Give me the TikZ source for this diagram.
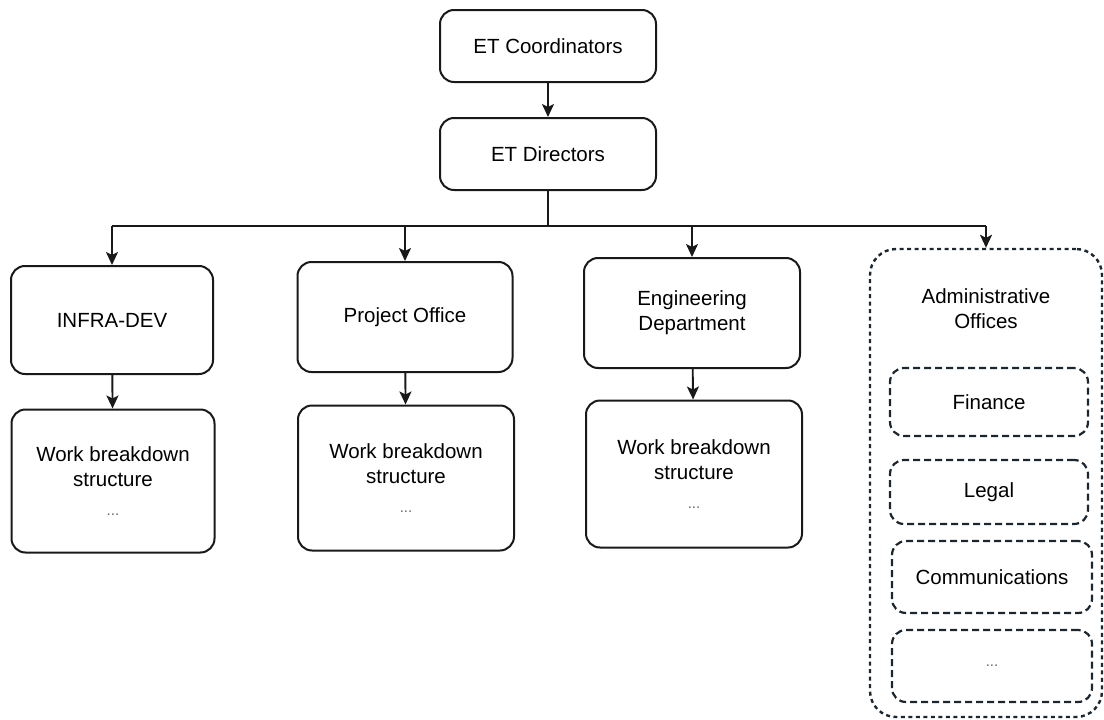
\documentclass[tikz,border=0pt]{standalone}
\usepackage{fontspec}
\setmainfont{Liberation Sans}
\usetikzlibrary{arrows.meta}
\definecolor{dashcol}{RGB}{28,38,46}
\begin{document}
\begin{tikzpicture}[x=1pt,y=-1pt,
  lbl/.style={font=\fontsize{20.5}{25}\selectfont, align=center, text=black},
  box/.style={lbl, draw=black!90, line width=2pt, rounded corners=14pt, inner sep=0pt},
  dbox/.style={lbl, draw=dashcol, line width=2.2pt, rounded corners=14pt, inner sep=0pt, dash pattern=on 7pt off 4pt},
  outer/.style={draw=dashcol, line width=2.4pt, rounded corners=26pt, dash pattern=on 4pt off 3.5pt},
  arr/.style={line width=1.9pt, draw=black!90, -{Stealth[length=13pt,width=12pt,inset=3pt]}},
  dotsf/.style={font=\fontsize{15}{15}\selectfont, text=black!60}]
\useasboundingbox (0,0) rectangle (1104,720);

\node[box, minimum width=216pt, minimum height=72pt] (coord) at (548,46) {ET Coordinators};
\node[box, minimum width=216pt, minimum height=72pt] (dir) at (548,154) {ET Directors};

\node[box, minimum width=202pt, minimum height=108pt] (infra) at (112,320) {INFRA-DEV};
\node[box, minimum width=215pt, minimum height=110pt] (po) at (405,317) {Project Office};
\node[box, minimum width=216pt, minimum height=110pt] (eng) at (692,313) {Engineering\\Department};

\node[box, minimum width=203pt, minimum height=143pt] (wb1) at (113,481) {Work breakdown\\structure\\[4pt]{\fontsize{15}{15}\selectfont\color{black!60}...}};
\node[box, minimum width=216pt, minimum height=145pt] (wb2) at (406,478) {Work breakdown\\structure\\[4pt]{\fontsize{15}{15}\selectfont\color{black!60}...}};
\node[box, minimum width=216pt, minimum height=147pt] (wb3) at (694,474) {Work breakdown\\structure\\[4pt]{\fontsize{15}{15}\selectfont\color{black!60}...}};

\node[outer, minimum width=232pt, minimum height=468pt, inner sep=0pt] (admin) at (986,483) {};
\node[lbl] (admint) at (986,309) {Administrative\\Offices};
\node[dbox, minimum width=198pt, minimum height=68pt] (fin) at (989,402) {Finance};
\node[dbox, minimum width=198pt, minimum height=64pt] (legal) at (989,492) {Legal};
\node[dbox, minimum width=200pt, minimum height=72pt] (comm) at (992,577) {Communications};
\node[dbox, minimum width=200pt, minimum height=72pt] (etc) at (992,666) {\fontsize{15}{15}\selectfont\color{black!60}...};

\draw[arr] (coord) -- (dir);
\coordinate (j) at (548,226);
\draw[line width=1.9pt, draw=black!90] (dir.south) -- (j);
\draw[line width=1.9pt, draw=black!90] (infra.north |- j) -- (admin.north |- j);
\draw[arr] (infra.north |- j) -- (infra.north);
\draw[arr] (po.north |- j) -- (po.north);
\draw[arr] (eng.north |- j) -- (eng.north);
\draw[arr] (admin.north |- j) -- (admin.north);
\draw[arr] (infra) -- (wb1);
\draw[arr] (po) -- (wb2);
\draw[arr] (eng) -- (wb3);
\end{tikzpicture}
\end{document}
